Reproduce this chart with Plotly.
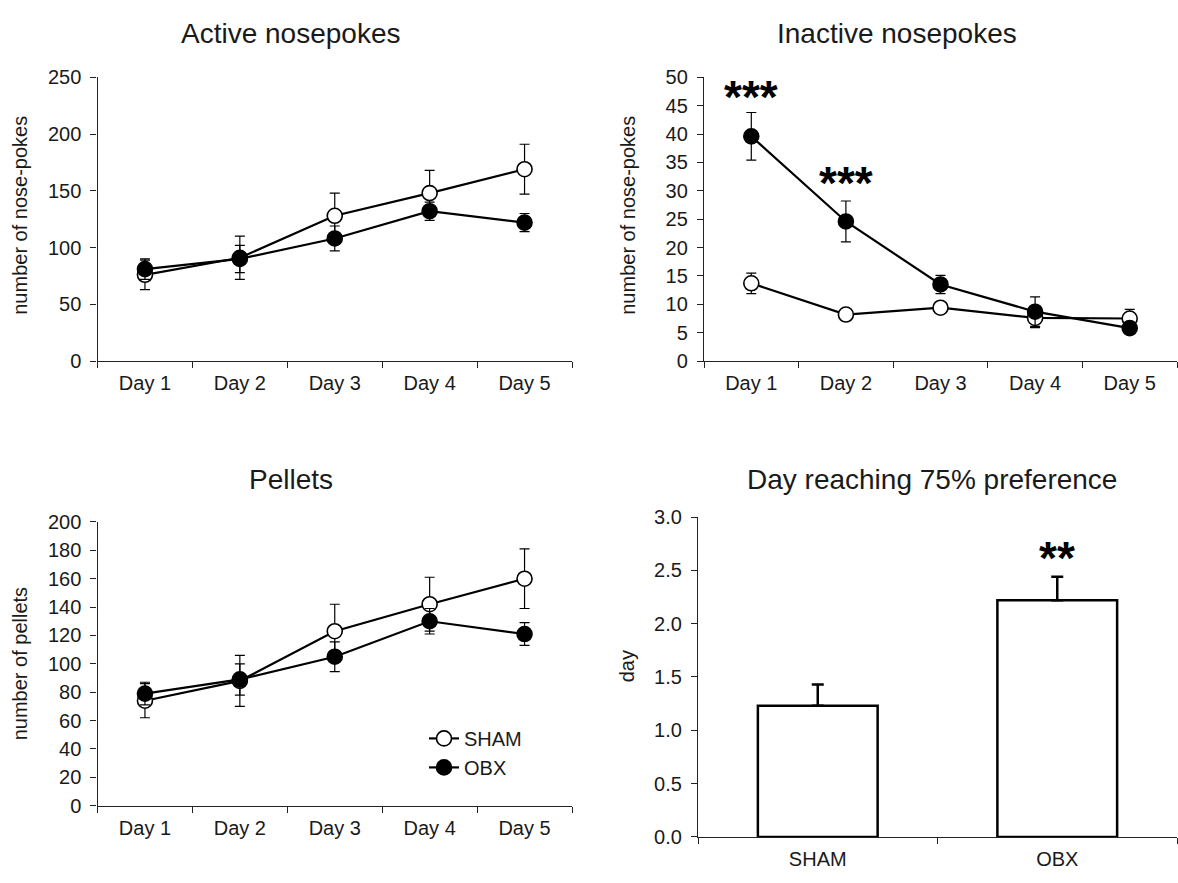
import plotly.graph_objects as go

# ---------------- data ----------------
days = ["Day 1", "Day 2", "Day 3", "Day 4", "Day 5"]

active_sham = [76, 91, 128, 148, 169]
active_sham_err = [13, 19, 20, 20, 22]
active_obx = [81, 90, 108, 132, 122]
active_obx_err = [9, 12, 11, 8, 8]

inactive_sham = [13.7, 8.2, 9.4, 7.6, 7.5]
inactive_sham_err = [1.8, 0.5, 0.6, 1.7, 1.6]
inactive_obx = [39.6, 24.6, 13.5, 8.7, 5.8]
inactive_obx_err = [4.2, 3.6, 1.6, 2.6, 1.0]

pellets_sham = [74, 88, 123, 142, 160]
pellets_sham_err = [12, 18, 19, 19, 21]
pellets_obx = [79, 89, 105, 130, 121]
pellets_obx_err = [8, 11, 10.5, 9, 8]

groups = ["SHAM", "OBX"]
pref_day = [1.23, 2.22]
pref_err = [0.20, 0.22]

inactive_sig_days = ["Day 1", "Day 2"]
inactive_sig_y = [46.5, 31.3]
pref_sig_group = "OBX"
pref_sig_y = 2.62

# ---------------- style ----------------
W, H = 1178, 883
FONT = "Liberation Sans, Arial, sans-serif"
TXT = "#1a1a1a"
TICK_SIZE = 20
TITLE_SIZE = 28
AXT_SIZE = 20
STAR_SIZE = 46


def px_x(p):
    return p / W


def px_y(p):
    return 1 - p / H


fig = go.Figure()


def add_pair(sham, sham_err, obx, obx_err, xa, ya, legend):
    fig.add_trace(go.Scatter(
        x=days, y=sham, xaxis=xa, yaxis=ya, name="SHAM", mode="lines+markers",
        line=dict(color="black", width=2.2),
        marker=dict(symbol="circle", size=15, color="white", line=dict(color="black", width=1.6)),
        error_y=dict(type="data", array=sham_err, color="black", thickness=1.2, width=5),
        showlegend=legend))
    fig.add_trace(go.Scatter(
        x=days, y=obx, xaxis=xa, yaxis=ya, name="OBX", mode="lines+markers",
        line=dict(color="black", width=2.2),
        marker=dict(symbol="circle", size=15, color="black", line=dict(color="black", width=1.6)),
        error_y=dict(type="data", array=obx_err, color="black", thickness=1.2, width=5),
        showlegend=legend))


add_pair(active_sham, active_sham_err, active_obx, active_obx_err, "x", "y", False)
add_pair(inactive_sham, inactive_sham_err, inactive_obx, inactive_obx_err, "x2", "y2", False)
add_pair(pellets_sham, pellets_sham_err, pellets_obx, pellets_obx_err, "x3", "y3", True)

fig.add_trace(go.Bar(
    x=groups, y=pref_day, xaxis="x4", yaxis="y4", showlegend=False,
    marker=dict(color="white", line=dict(color="black", width=2.5)),
    error_y=dict(type="data", symmetric=False, array=pref_err, arrayminus=[0, 0],
                 color="black", thickness=2.5, width=6)))

# ---------------- axes ----------------
common_x = dict(type="category", showline=True, linecolor="#222", linewidth=1.3,
                ticks="outside", ticklen=6, tickcolor="#222", tickwidth=1.3,
                tickson="boundaries", showgrid=False, zeroline=False, ticklabelstandoff=4,
                tickfont=dict(family=FONT, size=TICK_SIZE, color=TXT), fixedrange=True)
common_y = dict(showline=True, linecolor="#222", linewidth=1.3, ticks="outside",
                ticklen=6, tickcolor="#222", tickwidth=1.3, showgrid=False, zeroline=False,
                ticklabelstandoff=5,
                tickfont=dict(family=FONT, size=TICK_SIZE, color=TXT))

L1, R1 = px_x(97.5), px_x(572)
L2, R2 = px_x(704), px_x(1177)
L4 = px_x(698)
T1, B1 = px_y(68), px_y(359)
T3, B3 = px_y(524), px_y(815)
T4, B4 = px_y(519), px_y(847)

fig.update_layout(
    xaxis=dict(**common_x, domain=[L1, R1], anchor="y", range=[-0.5, 4.5]),
    yaxis=dict(**common_y, domain=[B1, T1], anchor="x", range=[0, 250], dtick=50),
    xaxis2=dict(**common_x, domain=[L2, R2], anchor="y2", range=[-0.5, 4.5]),
    yaxis2=dict(**common_y, domain=[B1, T1], anchor="x2", range=[0, 50], dtick=5),
    xaxis3=dict(**common_x, domain=[L1, R1], anchor="y3", range=[-0.5, 4.5]),
    yaxis3=dict(**common_y, domain=[B3, T3], anchor="x3", range=[0, 200], dtick=20),
    xaxis4=dict(**common_x, domain=[L4, R2], anchor="y4", range=[-0.5, 1.5]),
    yaxis4=dict(**common_y, domain=[B4, T4], anchor="x4", range=[0, 3.0], dtick=0.5,
                tickformat=".1f"),
    bargap=0.5,
    width=W, height=H, autosize=False,
    margin=dict(l=0, r=0, t=0, b=0),
    paper_bgcolor="white", plot_bgcolor="white",
    font=dict(family=FONT, color=TXT),
    legend=dict(x=px_x(424), y=px_y(726), xanchor="left", yanchor="top",
                font=dict(family=FONT, size=TICK_SIZE, color=TXT),
                bgcolor="rgba(0,0,0,0)", itemwidth=30, tracegroupgap=4),
)

ann = []
# panel titles
for text, cx, cy in [("Active nosepokes", 290, 23), ("Inactive nosepokes", 897, 23),
                     ("Pellets", 291, 480), ("Day reaching 75% preference", 932, 480)]:
    ann.append(dict(text=text, x=px_x(cx), y=px_y(cy), xref="paper", yref="paper",
                    showarrow=False, xanchor="center", yanchor="middle",
                    font=dict(family=FONT, size=TITLE_SIZE, color=TXT)))
# axis titles
for text, cx, cy in [("number of nose-pokes", 20, 210), ("number of nose-pokes", 628, 210),
                     ("number of pellets", 20, 670), ("day", 627, 672)]:
    ann.append(dict(text=text, x=px_x(cx), y=px_y(cy), xref="paper", yref="paper",
                    showarrow=False, textangle=-90, xanchor="center", yanchor="middle",
                    font=dict(family=FONT, size=AXT_SIZE, color=TXT)))
# significance marks
for d, yv in zip(inactive_sig_days, inactive_sig_y):
    ann.append(dict(text="<b>***</b>", x=d, y=yv, xref="x2", yref="y2", showarrow=False,
                    xanchor="center", yanchor="middle",
                    font=dict(family=FONT, size=STAR_SIZE, color="black")))
ann.append(dict(text="<b>**</b>", x=pref_sig_group, y=pref_sig_y, xref="x4", yref="y4",
                showarrow=False, xanchor="center", yanchor="middle",
                font=dict(family=FONT, size=STAR_SIZE, color="black")))
fig.update_layout(annotations=ann)

fig.write_html("out.html")
